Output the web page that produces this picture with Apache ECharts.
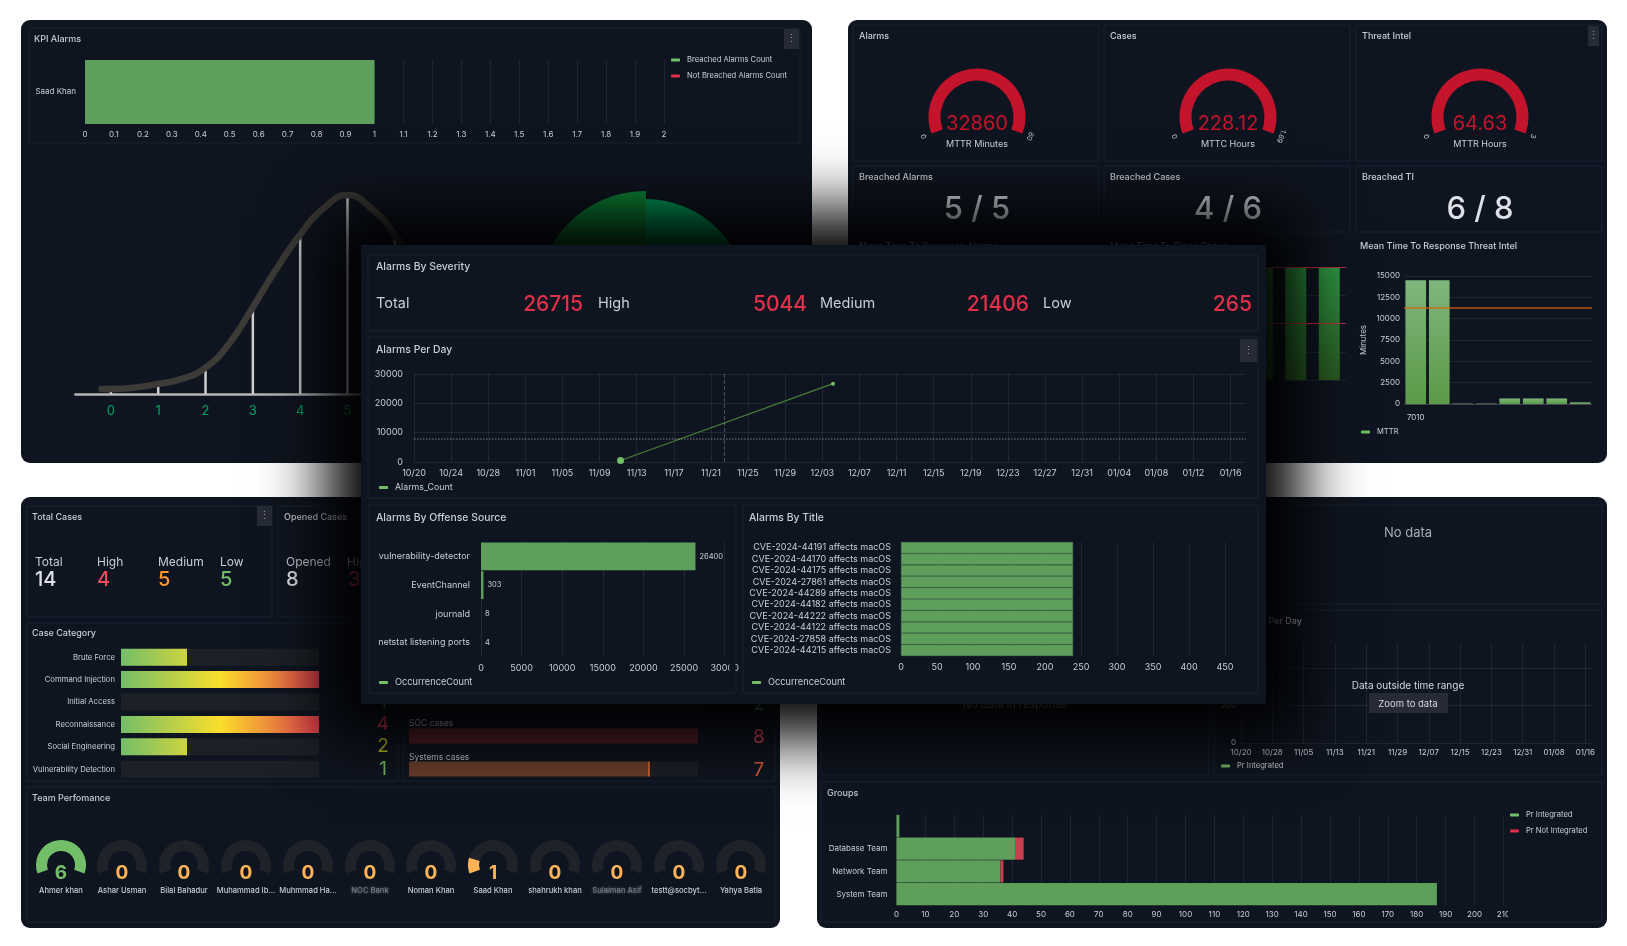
<!DOCTYPE html>
<html><head><meta charset="utf-8"><title>SOC Dashboard</title>
<style>html,body{margin:0;padding:0;background:#fff}#c{width:1627px;height:946px;filter:blur(0.45px)}</style>
<script src="https://cdn.jsdelivr.net/npm/echarts@6/dist/echarts.min.js"></script></head>
<body><div id="c"></div>
<script>
// ---- data ----
const kpiNames=['Saad Khan'];
const kpiBreached=[1];
const kpiNotBreached=[0];
const bellX=[-0.2,0,0.5,1,1.5,2,2.5,3,3.5,4,4.5,5,5.5,6,6.5,7,7.5,8];
const bellY=[2.5,2.5,3.2,5,7.5,13,25,43,62,79,92,98.5,92,79,60,40,24,13];
const bellBarX=[0,1,2,3,4,5,6,7,8];
const bellBarY=[2.5,5,13,43,79,97,79,40,13];
const bellTicks=[0,1,2,3,4,5,6,7,8];
const roseValues=[101,70,60,109];
const mttrGaugeTitles=['MTTR Minutes','MTTC Hours','MTTR Hours'];
const mttrGaugeValues=[32860,228.12,64.63];
const mttrGaugeMax=[60,1.69,3];
const panelTitlesTop=['Alarms','Cases','Threat Intel'];
const breachedTitles=['Breached Alarms','Breached Cases','Breached TI'];
const breachedValues=['5 / 5','4 / 6','6 / 8'];
const mttcValues=[4,4,4,4,4,4,4];
const mttcThresholds=[2,4];
const mttiCats=['7010','','','','','','',''];
const mttiValues=[14500,14500,50,50,650,650,650,200];
const mttiThreshold=11250;
const severityNames=['Total','High','Medium','Low'];
const severityValues=[26715,5044,21406,265];
const dayTicks=['10/20','10/24','10/28','11/01','11/05','11/09','11/13','11/17','11/21','11/25','11/29','12/03','12/07','12/11','12/15','12/19','12/23','12/27','12/31','01/04','01/08','01/12','01/16'];
const alarmsDayIdx=[22.26,45.15];
const alarmsCount=[500,26715];
const alarmsCursorDay=33.4;
const alarmsMeanLine=8080;
const offenseCats=['vulnerability-detector','EventChannel','journald','netstat listening ports'];
const offenseValues=[26400,303,8,4];
const titleCats=['CVE-2024-44191 affects macOS','CVE-2024-44170 affects macOS','CVE-2024-44175 affects macOS','CVE-2024-27861 affects macOS','CVE-2024-44289 affects macOS','CVE-2024-44182 affects macOS','CVE-2024-44222 affects macOS','CVE-2024-44122 affects macOS','CVE-2024-27858 affects macOS','CVE-2024-44215 affects macOS'];
const titleValues=[239,239,239,239,239,239,239,239,239,239];
const caseStatNames=['Total','High','Medium','Low'];
const caseStatValues=[14,4,5,5];
const caseCats=['Brute Force','Command Injection','Initial Access','Reconnaissance','Social Engineering','Vulnerability Detection'];
const caseCatValues=[2,4,1,4,2,1];
const socCats=['Network cases','SOC cases','Systems cases'];
const socValues=[2,8,7];
const teamNames=['Ahmer khan','Ashar Usman','Bilal Bahadur','Muhammad Ib...','Muhmmad Ha...','NOC Bank','Noman Khan','Saad Khan','shahrukh khan','Sulaiman Asif','testt@socbyt...','Yahya Batla'];
const teamValues=[6,0,0,0,0,0,0,1,0,0,0,0];
const prTicks=['10/20','10/28','11/05','11/13','11/21','11/29','12/07','12/15','12/23','12/31','01/08','01/16'];
const groupCats=['','Database Team','Network Team','System Team'];
const groupIntegrated=[1,41,36,187];
const groupNotIntegrated=[0,3,1,0];

// ---- style ----
const FONT='Inter';
const PANEL='#0f1520',BORDER='#1a2231',TXT='#c9cdd5',GRID='rgba(255,255,255,0.075)',BAR='#5f9f5c',LG='#73bf69',RED='#e0304a',BTN='#262b36',BARRED='#c8404f';
const grid=[],xAxis=[],yAxis=[],series=[],legend=[],gfx=[];
const rect=(x,y,w,h,fill,zl,z,o={})=>gfx.push({type:'rect',silent:true,zlevel:zl,z,shape:{x,y,width:w,height:h,r:o.r||0},style:{fill,stroke:o.stroke||null,lineWidth:o.stroke?1:0,shadowBlur:o.blur||0,shadowColor:o.shadow||'transparent',shadowOffsetX:o.off||0}});
const panel=(x,y,w,h,zl)=>rect(x,y,w,h,PANEL,zl,-1,{stroke:BORDER});
const txt=(x,y,text,size,color,zl,o={})=>gfx.push({type:'text',silent:true,zlevel:zl,z:o.z||20,x,y:y+1,rotation:o.rot||0,style:{text:String(text),fill:color,fontSize:size,fontFamily:FONT,fontWeight:o.w||400,align:o.a||'left',verticalAlign:'middle',textAlign:o.a||'left',textVerticalAlign:'middle'}});
const menu=(x,y,w,h,zl)=>{rect(x,y,w,h,BTN,zl,5);txt(x+w/2,y+h/2-1,'⋮',11,'#8d93a0',zl,{a:'center'});};
const axLab=(zl,o={})=>Object.assign({color:TXT,fontSize:8,fontFamily:FONT,margin:6,formatter:v=>String(v)},o);
function addGrid(l,t,w,h,zl){grid.push({left:l,top:t,width:w,height:h,zlevel:zl});return grid.length-1;}
function valX(g,zl,min,max,interval,o={}){xAxis.push(Object.assign({type:'value',gridIndex:g,zlevel:zl,min,max,interval,axisLine:{show:false},axisTick:{show:false},splitLine:{show:true,showMaxLine:o.noMax?false:true,lineStyle:{color:GRID,width:1}},axisLabel:axLab(zl,o.lab||{})},o.ax||{}));return xAxis.length-1;}
function catY(g,zl,data,o={}){yAxis.push({type:'category',gridIndex:g,zlevel:zl,data,inverse:true,axisLine:{show:false},axisTick:{show:false},splitLine:{show:false},axisLabel:axLab(zl,Object.assign({margin:9,interval:0,formatter:null},o.lab||{}))});return yAxis.length-1;}
function leg(l,t,names,zl,o={}){legend.push({zlevel:zl,left:l,top:t,padding:0,orient:'vertical',itemWidth:9,itemHeight:3,itemGap:o.gap||8,icon:'roundRect',selectedMode:false,textStyle:{color:TXT,fontSize:o.fs||7.6,fontFamily:FONT,padding:[0,0,0,2]},data:names.map(n=>({name:n[0],itemStyle:{color:n[1]}}))});}

// ---- outer panels ----
rect(21,20,791,443,PANEL,0,-2,{r:9});
rect(848,20,759,443,PANEL,0,-2,{r:9});
rect(21,497,759,431,PANEL,0,-2,{r:9});
rect(817,497,790,431,PANEL,0,-2,{r:9});

// ---- KPI Alarms ----
panel(29,28,771,115,0);
txt(34,38,'KPI Alarms',9,TXT,0,{w:500});
menu(784,29,15,20,0);
{const g=addGrid(85,60,579,64,0);const x=valX(g,0,0,2,0.1,{lab:{margin:7}});const y=catY(g,0,kpiNames);
 series.push({type:'bar',name:'Breached Alarms Count',xAxisIndex:x,yAxisIndex:y,stack:'k',barCategoryGap:0,data:kpiBreached,itemStyle:{color:BAR},zlevel:0});
 series.push({type:'bar',name:'Not Breached Alarms Count',xAxisIndex:x,yAxisIndex:y,stack:'k',data:kpiNotBreached,itemStyle:{color:BARRED},zlevel:0});
 leg(671,56,[['Breached Alarms Count',LG],['Not Breached Alarms Count',RED]],0,{gap:8});}

// ---- bell curve + rose ----
{const g=addGrid(75.4,192,556,202,0);
 xAxis.push({type:'value',gridIndex:g,zlevel:0,min:-0.75,max:11,axisLine:{show:true,lineStyle:{color:'#b5b5b5',width:2.5}},axisTick:{show:false},splitLine:{show:false},
  axisLabel:{customValues:bellTicks,color:'#00a565',fontSize:13,fontFamily:FONT,margin:11}});
 yAxis.push({type:'value',gridIndex:g,zlevel:0,min:0,max:100,show:false});
 const x=xAxis.length-1,y=yAxis.length-1;
 series.push({type:'bar',name:'bellBars',xAxisIndex:x,yAxisIndex:y,barWidth:2.5,data:bellBarX.map((v,i)=>[v,bellBarY[i]]),itemStyle:{color:'#cfcfcf'},zlevel:0,z:2});
 series.push({type:'line',name:'bell',xAxisIndex:x,yAxisIndex:y,smooth:0.5,showSymbol:false,data:bellX.map((v,i)=>[v,bellY[i]]),lineStyle:{color:'#3d3b37',width:6.5,cap:'round'},zlevel:0,z:3});
 series.push({type:'pie',name:'rose',center:[646,300],radius:[0,109],roseType:'area',startAngle:90,clockwise:true,silent:true,label:{show:false},labelLine:{show:false},zlevel:0,
  data:roseValues.map((v,i)=>({value:v,name:'r'+i,itemStyle:{color:i===3?'#0e8a38':'#00a05a'}}))});}

// ---- MTTR panels ----
const cols=[853,1104,1356],colW=[246,246,246],gaugeCx=[977,1228,1480];
cols.forEach((cx,i)=>{
 panel(cx,25,colW[i],136,0);
 txt(cx+6,35,panelTitlesTop[i],9,TXT,0,{w:500});
 panel(cx,166,colW[i],66,0);
 txt(cx+6,176,breachedTitles[i],9,TXT,0,{w:500});
 txt(gaugeCx[i],209,breachedValues[i],31,'#dde0e6',0,{a:'center',w:500});
 series.push({type:'gauge',name:panelTitlesTop[i],center:[gaugeCx[i],117],radius:48.5,startAngle:200,endAngle:-20,min:0,max:mttrGaugeMax[i],splitNumber:1,zlevel:0,
  axisLine:{lineStyle:{width:12,color:[[1,'#c4142c']]}},pointer:{show:false},axisTick:{show:false},splitLine:{show:false,length:0,distance:0},
  axisLabel:{distance:-8,color:TXT,fontSize:7,fontFamily:FONT,rotate:'tangential'},
  detail:{formatter:'{value}',offsetCenter:[0,7],fontSize:20,color:'#c4142c',fontFamily:FONT,fontWeight:400},
  title:{offsetCenter:[0,27],fontSize:9,color:TXT,fontFamily:FONT},
  data:[{value:mttrGaugeValues[i],name:mttrGaugeTitles[i]}]});
});
menu(1588,26,11,20,0);
txt(859,245,'Mean Time To Response Alarms',9,TXT,0,{w:500});
txt(1110,245,'Mean Time To Close Cases',9,TXT,0,{w:500});
txt(1360,245,'Mean Time To Response Threat Intel',9,TXT,0,{w:500});
{const g=addGrid(1111.5,267,234.5,113,0);
 xAxis.push({type:'category',gridIndex:g,zlevel:0,data:mttcValues.map((v,i)=>String(i)),axisLine:{show:false},axisTick:{show:false},axisLabel:{show:false}});
 yAxis.push({type:'value',gridIndex:g,zlevel:0,min:0,max:4,interval:1,axisLabel:{show:false},splitLine:{lineStyle:{color:GRID}}});
 series.push({type:'bar',name:'MTTC',xAxisIndex:xAxis.length-1,yAxisIndex:yAxis.length-1,barWidth:21,zlevel:0,data:mttcValues,
  itemStyle:{color:new echarts.graphic.LinearGradient(0,0,0,1,[{offset:0,color:'#2f9a44'},{offset:1,color:'#2b5c22'}])},
  markLine:{silent:true,symbol:'none',label:{show:false},lineStyle:{color:'#b93044',width:1,type:'solid'},data:mttcThresholds.map(v=>({yAxis:v}))}});}
{const g=addGrid(1404,276,188,128,0);
 xAxis.push({type:'category',gridIndex:g,zlevel:0,data:mttiCats,axisLine:{lineStyle:{color:'rgba(255,255,255,.15)'}},axisTick:{show:false},axisLabel:axLab(0,{interval:0,margin:10,formatter:null})});
 yAxis.push({type:'value',gridIndex:g,zlevel:0,min:0,max:15000,interval:2500,axisLabel:axLab(0,{margin:4}),axisLine:{show:false},axisTick:{show:false},splitLine:{lineStyle:{color:GRID}},name:'Minutes',nameLocation:'middle',nameRotate:90,nameGap:36,nameTextStyle:{color:TXT,fontSize:8,fontFamily:FONT}});
 series.push({type:'bar',name:'MTTR',xAxisIndex:xAxis.length-1,yAxisIndex:yAxis.length-1,barWidth:'88%',zlevel:0,data:mttiValues,
  itemStyle:{color:new echarts.graphic.LinearGradient(0,0,0,1,[{offset:0,color:'#7fb67c'},{offset:1,color:'#5a9a48'}])},
  markLine:{silent:true,symbol:'none',label:{show:false},lineStyle:{color:'rgba(214,98,12,.85)',width:1.5,type:'solid'},data:[{yAxis:mttiThreshold}]}});
 leg(1361,428,[['MTTR',LG]],0);}

// ---- bottom-left ----
panel(27,506,245,111,0);
txt(32,516,'Total Cases',9,TXT,0,{w:500});
menu(257,506,15,20,0);
const caseX=[35,97,158,220],caseCol=['#dfe2e8','#f2495c','#ff9830','#73bf69'];
caseStatNames.forEach((n,i)=>{txt(caseX[i],561,n,12,TXT,0);txt(caseX[i],579,caseStatValues[i],20,caseCol[i],0,{w:500});});
panel(278,506,200,111,0);
txt(284,516,'Opened Cases',9,TXT,0,{w:500});
txt(286,561,'Opened',12,TXT,0);txt(286,579,'8',20,'#dfe2e8',0,{w:500});
txt(347,561,'High',12,TXT,0);txt(348,579,'3',20,'#f2495c',0,{w:500});
panel(27,623,371,158,0);
txt(32,632,'Case Category',9,TXT,0,{w:500});
{const g=addGrid(121,646,198,134.4,0);
 const x=valX(g,0,1,4,1,{ax:{show:false,splitLine:{show:false}}});const y=catY(g,0,caseCats,{lab:{margin:6,fontSize:7.7}});
 series.push({type:'bar',name:'Case Category',xAxisIndex:x,yAxisIndex:y,barWidth:17,zlevel:0,showBackground:true,backgroundStyle:{color:'#1d2027'},data:caseCatValues,
  itemStyle:{color:new echarts.graphic.LinearGradient(121,0,319,0,[{offset:0,color:'#73bf69'},{offset:0.5,color:'#fade2a'},{offset:1,color:'#e8404f'}],true)}});
 const numCol={4:'#f2495c',2:'#c9c82f',1:'#73bf69'};
 caseCatValues.forEach((v,i)=>txt(383,656+22.4*i,v,19,numCol[v],0,{a:'center'}));}
panel(403,623,372,158,0);
{const g=addGrid(409,686.5,289,99,0);
 const x=valX(g,0,2,8,2,{ax:{show:false,splitLine:{show:false}}});
 yAxis.push({type:'category',gridIndex:g,zlevel:0,data:socCats,inverse:true,axisLabel:{show:false},axisLine:{show:false},axisTick:{show:false}});
 series.push({type:'bar',name:'Cases',xAxisIndex:x,yAxisIndex:yAxis.length-1,barWidth:15,zlevel:0,showBackground:true,backgroundStyle:{color:'#1d2027'},
  data:socValues.map((v,i)=>({value:v,itemStyle:{color:i===2?new echarts.graphic.LinearGradient(0,0,1,0,[{offset:0,color:'#6f402f'},{offset:0.992,color:'#6f402f'},{offset:0.992,color:'#d8642e'},{offset:1,color:'#d8642e'}]):'#57202a'}}))});
 txt(409,690,socCats[0],8.5,TXT,0);
 txt(409,722,socCats[1],8.5,TXT,0);
 txt(409,756,socCats[2],8.5,TXT,0);
 const numCol=['#73bf69','#f2495c','#e0603a'];
 socValues.forEach((v,i)=>txt(759,703+33*i,v,19,numCol[i],0,{a:'center'}));}
panel(27,787,748,135,0);
txt(32,797,'Team Perfomance',9,TXT,0,{w:500});
const teamCx=[61,122,184,246,308,370,431,493,555,617,679,741];
teamNames.forEach((n,i)=>{
 const col=teamValues[i]>=6?'#73bf69':'#ffb357';
 const dat={value:teamValues[i],name:n};
 if(i===5||i===9) dat.title={color:'rgba(201,205,213,.45)',textShadowColor:'#c9cdd5',textShadowBlur:3};
 series.push({type:'gauge',name:n,center:[teamCx[i],865],radius:25,startAngle:200,endAngle:-20,min:0,max:6,zlevel:0,
  axisLine:{lineStyle:{width:11,color:[[1,'#1f2229']]}},progress:{show:true,width:11,itemStyle:{color:col}},pointer:{show:false},axisTick:{show:false},splitLine:{show:false},axisLabel:{show:false},
  detail:{formatter:'{value}',offsetCenter:[0,8],fontSize:19,color:col,fontFamily:FONT},
  title:{offsetCenter:[0,26],fontSize:7.6,color:TXT,fontFamily:FONT,fontWeight:500},
  data:[dat]});
});

// ---- bottom-right ----
panel(821,505,781,99,0);
txt(1408,532,'No data',13,'#a9adb6',0,{a:'center'});
panel(821,610,388,165,0);
txt(1015,704,'No data in response',11,'#a9adb6',0,{a:'center'});
panel(1214,610,388,165,0);
txt(1302,620,'Pr Integrated Per Day',9,TXT,0,{a:'right',w:500});
{const g=addGrid(1241,643,351,100,0);
 const x=valX(g,0,0,89.7,8,{noMax:true,lab:{formatter:v=>prTicks[v/8]||''}});
 yAxis.push({type:'value',gridIndex:g,zlevel:0,min:0,max:533,interval:200,axisLine:{show:false},axisTick:{show:false},splitLine:{showMaxLine:false,lineStyle:{color:GRID}},axisLabel:axLab(0,{margin:5,formatter:v=>v%200===0?String(v):''})});
 series.push({type:'line',name:'Pr Integrated',xAxisIndex:x,yAxisIndex:yAxis.length-1,data:[],zlevel:0,itemStyle:{color:LG}});
 leg(1221,762,[['Pr Integrated',LG]],0);}
txt(1408,685,'Data outside time range',10,'#d5d8de',0,{a:'center',z:30});
rect(1369,693,79,20,BTN,0,25);
txt(1408,703,'Zoom to data',9.5,'#d5d8de',0,{a:'center',z:30});
panel(821,782,781,140,0);
txt(827,792,'Groups',9,TXT,0,{w:500});
{const g=addGrid(896.5,814.5,606.9,91,0);
 const x=valX(g,0,0,210,10,{lab:{margin:5}});const y=catY(g,0,groupCats);
 series.push({type:'bar',name:'Pr Integrated',xAxisIndex:x,yAxisIndex:y,stack:'g',barCategoryGap:'3%',zlevel:0,data:groupIntegrated,itemStyle:{color:BAR}});
 series.push({type:'bar',name:'Pr Not Integrated',xAxisIndex:x,yAxisIndex:y,stack:'g',zlevel:0,data:groupNotIntegrated,itemStyle:{color:BARRED}});
 leg(1510,811,[['Pr Integrated',LG],['Pr Not Integrated',RED]],0,{gap:8});
 rect(1508,909,14,12,PANEL,0,10);}

// ---- centre overlay (upper layer) ----
rect(326-4000,210,975,529,'#000',1,-3,{blur:60,shadow:'#000',off:4000});
rect(361,245,905,459,PANEL,1,-2);
panel(368,255,890,76,1);
txt(376,266,'Alarms By Severity',10.4,TXT,1,{w:500});
const sevNameX=[376,598,820,1043],sevValR=[583,807,1029,1252];
severityNames.forEach((n,i)=>{txt(sevNameX[i],303,n,14.5,TXT,1);txt(sevValR[i],304,severityValues[i],21,RED,1,{a:'right',w:500});});
panel(368,337,890,161,1);
txt(376,349,'Alarms Per Day',10.4,TXT,1,{w:500});
menu(1240,339,17,23,1);
{const g=addGrid(414,374,832,88,1);
 const x=valX(g,1,0,89.66,4,{noMax:true,lab:{fontSize:9,margin:7,formatter:v=>dayTicks[v/4]||''}});
 yAxis.push({type:'value',gridIndex:g,zlevel:1,min:0,max:30000,interval:10000,axisLine:{show:false},axisTick:{show:false},splitLine:{lineStyle:{color:GRID}},axisLabel:axLab(1,{fontSize:9,margin:11})});
 series.push({type:'line',name:'Alarms_Count',xAxisIndex:x,yAxisIndex:yAxis.length-1,zlevel:1,symbol:'circle',
  data:alarmsDayIdx.map((d,i)=>({value:[d,alarmsCount[i]],symbolSize:i===0?7:4})),lineStyle:{color:'#467f38',width:1.2},itemStyle:{color:LG},
  markLine:{zlevel:1,z:5,silent:true,symbol:'none',label:{show:false},data:[
   {xAxis:alarmsCursorDay,lineStyle:{color:'rgba(255,255,255,.25)',type:'dashed',width:1}},
   {yAxis:alarmsMeanLine,lineStyle:{color:'rgba(255,255,255,.3)',type:'dotted',width:1.5}}]}});
 leg(379,483,[['Alarms_Count',LG]],1,{fs:8.8});}
panel(369,505,367,188,1);
txt(376,517,'Alarms By Offense Source',10.4,TXT,1,{w:500});
{const g=addGrid(481,542,243.7,115,1);
 const x=valX(g,1,0,30000,5000,{lab:{fontSize:9,margin:7}});const y=catY(g,1,offenseCats,{lab:{fontSize:9,margin:11}});
 series.push({type:'bar',name:'OccurrenceCount',xAxisIndex:x,yAxisIndex:y,barCategoryGap:'3%',zlevel:1,data:offenseValues,itemStyle:{color:BAR},label:{show:true,position:'right',distance:4,color:TXT,fontSize:7.5,fontFamily:FONT}});
 leg(379,678,[['OccurrenceCount',LG]],1,{fs:9.2});
 rect(729.5,660,6,14,PANEL,1,10);}
panel(743,505,515,188,1);
txt(749,517,'Alarms By Title',10.4,TXT,1,{w:500});
{const g=addGrid(901,542,324,114,1);
 const x=valX(g,1,0,450,50,{lab:{fontSize:9,margin:7}});const y=catY(g,1,titleCats,{lab:{fontSize:9,margin:10}});
 series.push({type:'bar',name:'OccurrenceCount',xAxisIndex:x,yAxisIndex:y,barCategoryGap:'1%',zlevel:1,data:titleValues,itemStyle:{color:BAR,borderColor:'#4c8550',borderWidth:0.6}});
 leg(752,678,[['OccurrenceCount',LG]],1,{fs:9.2});}

const chart=echarts.init(document.getElementById('c'),null,{renderer:'canvas'});
chart.setOption({animation:false,backgroundColor:'#ffffff',textStyle:{fontFamily:FONT},grid,xAxis,yAxis,series,legend,graphic:{elements:gfx}});
</script></body></html>
